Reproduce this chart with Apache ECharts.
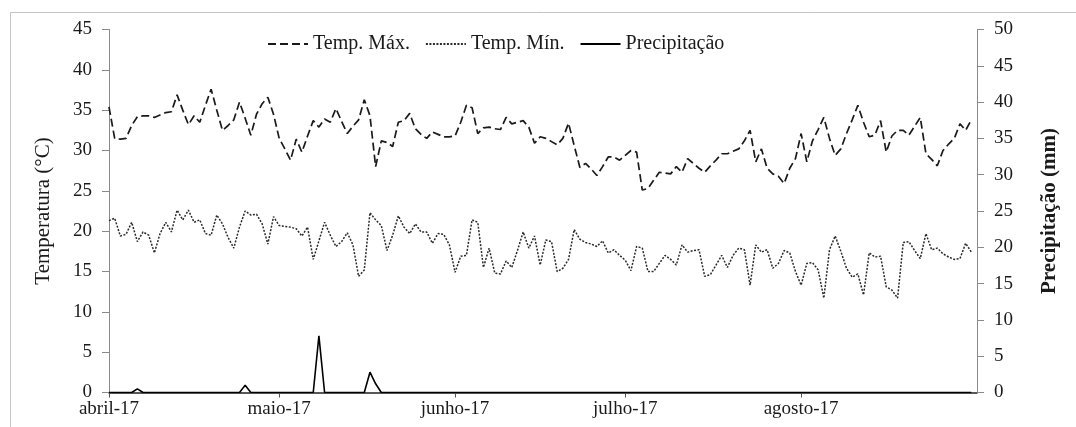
<!DOCTYPE html>
<html>
<head>
<meta charset="utf-8">
<script src="https://cdn.jsdelivr.net/npm/echarts@6/dist/echarts.min.js"></script>
<style>html,body{margin:0;padding:0;background:#fff;}#c{width:1076px;height:427px;}</style>
</head>
<body>
<div id="c"></div>
<script>
// Day index 0 = 1 April 2017 ... 152 = 31 August 2017
const monthLabels = ["abril-17", "maio-17", "junho-17", "julho-17", "agosto-17"];
const monthStartDay = [0, 30, 61, 91, 122];
const dayCount = 153;

const tempMax = [
35.4,31.5,31.4,31.5,33.1,34.2,34.3,34.3,34.1,34.4,
34.7,34.8,36.9,35.0,33.2,34.3,33.5,35.6,37.6,35.0,
32.5,33.1,33.8,36.0,34.0,31.9,34.5,35.8,36.6,34.5,
31.5,30.2,28.8,31.4,29.8,31.8,33.7,32.9,33.9,33.5,
35.2,33.6,32.1,33.0,33.8,36.3,34.3,28.0,31.2,31.0,
30.5,33.5,33.7,34.6,32.7,32.0,31.5,32.3,32.0,31.7,
31.7,31.8,33.5,35.6,35.3,32.1,32.8,32.9,32.7,32.6,
34.1,33.3,33.5,33.7,32.9,30.9,31.7,31.5,31.1,30.7,
31.5,33.4,30.6,27.9,28.4,27.7,26.9,28.0,29.2,29.2,
28.8,29.4,30.0,29.8,25.1,25.3,26.3,27.3,27.2,27.1,
28.0,27.3,29.0,28.4,27.8,27.3,28.1,28.8,29.6,29.6,
29.9,30.2,31.2,32.5,28.6,30.2,27.8,27.1,26.8,25.9,
27.8,29.0,32.1,28.6,31.2,32.6,34.1,31.5,29.4,30.2,
32.1,33.8,35.6,33.5,31.7,31.9,33.7,29.8,31.8,32.5,
32.5,31.9,33.0,34.1,29.6,28.9,28.1,30.0,30.8,31.5,
33.3,32.5,33.8
];

const tempMin = [
21.3,21.6,19.4,19.6,21.1,18.7,19.9,19.5,17.3,19.7,
21.1,19.9,22.6,21.4,22.6,21.1,21.4,19.7,19.5,22.0,
20.9,19.2,17.9,20.5,22.5,22.0,22.1,20.9,18.4,21.8,
20.7,20.6,20.5,20.3,19.4,20.5,16.5,18.8,21.1,19.5,
18.1,18.7,19.8,18.3,14.4,15.2,22.3,21.4,20.7,17.6,
19.5,21.9,20.5,19.7,20.9,19.9,19.9,18.5,19.7,19.6,
18.3,14.9,16.9,17.0,21.4,21.1,15.5,17.9,14.8,14.7,
16.3,15.5,17.6,19.9,17.9,19.4,15.8,18.9,18.7,15.0,
15.4,16.5,20.2,19.0,18.6,18.4,18.1,18.8,17.3,17.7,
17.0,16.4,15.1,18.1,17.9,15.0,15.0,16.0,17.0,16.5,
15.8,18.3,17.4,17.6,17.7,14.4,14.6,15.8,17.0,15.5,
17.0,17.9,17.7,13.3,18.3,17.4,17.7,15.4,16.0,17.6,
17.3,15.0,13.3,16.0,16.1,15.2,11.7,17.7,19.4,17.5,
15.4,14.3,14.7,12.1,17.3,16.8,16.9,13.1,12.7,11.7,
18.6,18.7,17.6,16.6,19.7,17.7,17.9,17.2,16.8,16.5,
16.6,18.5,17.4
];

const precip = [
0,0,0,0,0,0.5,0,0,0,0,
0,0,0,0,0,0,0,0,0,0,
0,0,0,0,1.0,0,0,0,0,0,
0,0,0,0,0,0,0,7.8,0,0,
0,0,0,0,0,0,2.8,1.2,0,0,
0,0,0,0,0,0,0,0,0,0,
0,0,0,0,0,0,0,0,0,0,
0,0,0,0,0,0,0,0,0,0,
0,0,0,0,0,0,0,0,0,0,
0,0,0,0,0,0,0,0,0,0,
0,0,0,0,0,0,0,0,0,0,
0,0,0,0,0,0,0,0,0,0,
0,0,0,0,0,0,0,0,0,0,
0,0,0,0,0,0,0,0,0,0,
0,0,0,0,0,0,0,0,0,0,
0,0,0
];

const seriesNames = ["Temp. Máx.", "Temp. Mín.", "Precipitação"];
const toPairs = arr => arr.map((v, i) => [i, v]);

const font = "'Liberation Serif', 'Times New Roman', serif";
const chart = echarts.init(document.getElementById('c'), null, {renderer: 'canvas'});
chart.setOption({
  animation: false,
  backgroundColor: '#fff',
  textStyle: {fontFamily: font},
  graphic: [{
    type: 'rect', silent: true, z: -10,
    shape: {x: 10.5, y: 12.5, width: 1200, height: 600},
    style: {fill: 'none', stroke: '#c4c4c4', lineWidth: 1}
  }],
  grid: {left: 109, right: 99, top: 29.5, bottom: 34.5, containLabel: false},
  legend: {
    left: 262, top: 29,
    itemWidth: 40, itemHeight: 14, itemGap: 15,
    itemStyle: {opacity: 0},
    textStyle: {fontFamily: font, fontSize: 20, color: '#1a1a1a'},
    data: seriesNames
  },
  xAxis: {
    type: 'value', min: 0, max: dayCount,
    axisLine: {show: true, lineStyle: {color: '#222', width: 1.5}},
    axisTick: {show: true, length: 5, customValues: monthStartDay, lineStyle: {color: '#555'}},
    axisLabel: {
      customValues: monthStartDay, margin: 7,
      fontFamily: font, fontSize: 19, color: '#1a1a1a',
      formatter: v => monthLabels[monthStartDay.indexOf(v)] || ''
    },
    splitLine: {show: false}
  },
  yAxis: [{
    type: 'value', min: 0, max: 45, interval: 5, position: 'left',
    name: 'Temperatura (°C)', nameLocation: 'middle', nameGap: 55, nameRotate: 90,
    nameTextStyle: {fontFamily: font, fontSize: 21, color: '#1a1a1a'},
    axisLine: {show: true, lineStyle: {color: '#8a8a8a', width: 1}},
    axisTick: {show: true, length: 7, lineStyle: {color: '#8a8a8a'}},
    axisLabel: {margin: 17, fontFamily: font, fontSize: 19, color: '#1a1a1a'},
    splitLine: {show: false}
  }, {
    type: 'value', min: 0, max: 50, interval: 5, position: 'right',
    name: 'Precipitação (mm)', nameLocation: 'middle', nameGap: 62, nameRotate: 90,
    nameTextStyle: {fontFamily: font, fontSize: 21, fontWeight: 'bold', color: '#1a1a1a'},
    axisLine: {show: true, lineStyle: {color: '#8a8a8a', width: 1}},
    axisTick: {show: true, length: 7, lineStyle: {color: '#8a8a8a'}},
    axisLabel: {margin: 17, fontFamily: font, fontSize: 19, color: '#1a1a1a'},
    splitLine: {show: false}
  }],
  series: [{
    name: seriesNames[0], type: 'line', yAxisIndex: 0, symbol: 'none',
    data: toPairs(tempMax),
    lineStyle: {color: '#1a1a1a', width: 1.7, type: [8, 4]},
    itemStyle: {color: '#1a1a1a'}
  }, {
    name: seriesNames[1], type: 'line', yAxisIndex: 0, symbol: 'none',
    data: toPairs(tempMin),
    lineStyle: {color: '#2a2a2a', width: 1.5, type: [2, 1.5]},
    itemStyle: {color: '#2a2a2a'}
  }, {
    name: seriesNames[2], type: 'line', yAxisIndex: 1, symbol: 'none',
    data: toPairs(precip),
    lineStyle: {color: '#000', width: 1.6, type: 'solid'},
    itemStyle: {color: '#000'}
  }]
});
</script>
</body>
</html>
